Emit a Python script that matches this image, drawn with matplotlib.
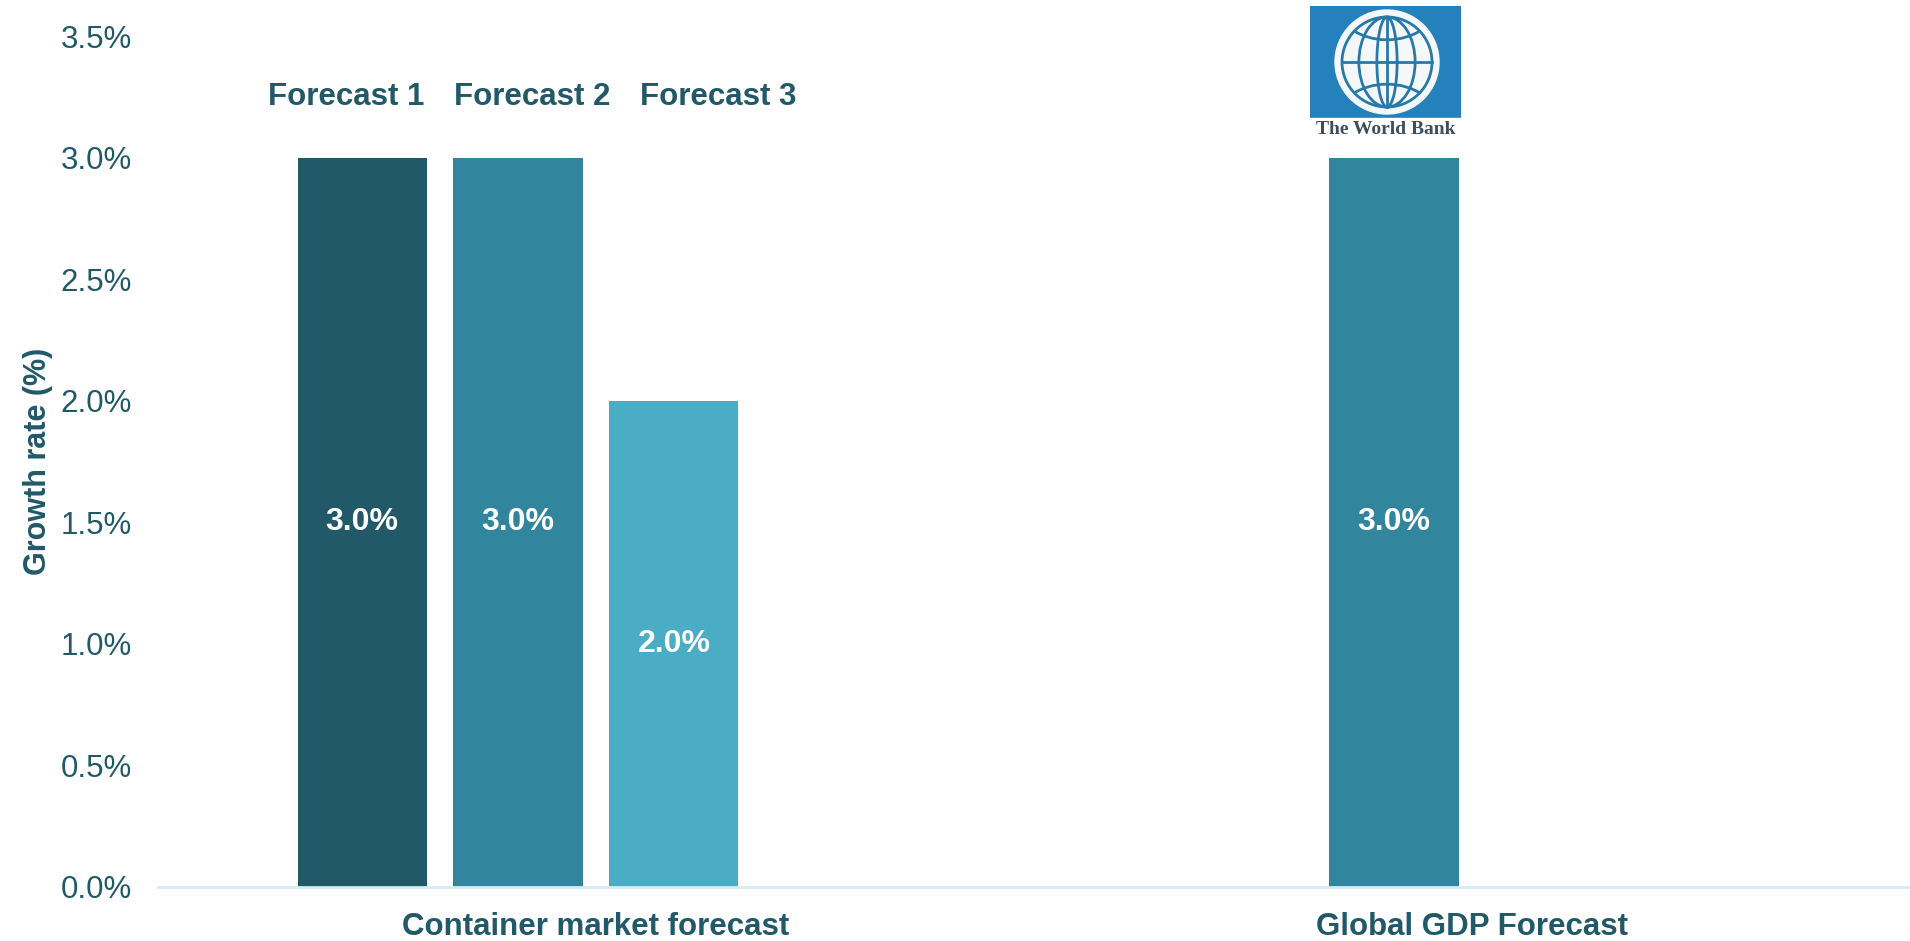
import numpy as np
import matplotlib
matplotlib.use("Agg")
import matplotlib.pyplot as plt
from matplotlib.patches import Rectangle, Circle, Ellipse

# data
categories = ["Container market forecast", "Global GDP Forecast"]
series_names = ["Forecast 1", "Forecast 2", "Forecast 3"]
forecast_1 = [3.0, np.nan]
forecast_2 = [3.0, 3.0]
forecast_3 = [2.0, np.nan]
series_vals = [forecast_1, forecast_2, forecast_3]
colors = ["#215968", "#31859C", "#4BACC6"]
yticks = [0.0, 0.5, 1.0, 1.5, 2.0, 2.5, 3.0, 3.5]

txt = "#215968"
plt.rcParams["font.family"] = ["Liberation Sans", "DejaVu Sans"]

fig = plt.figure(figsize=(19.1, 9.41), dpi=100)
ax = fig.add_axes([0.0827, 0.0576, 0.9173, 0.9036])

# four slots per category, bars fill the first three
n_slots = 4
slot = 0.178
width = 0.1474
xc = np.arange(len(categories)) + 0.5
for i, (name, vals) in enumerate(zip(series_names, series_vals)):
    off = (i - (n_slots - 1) / 2) * slot
    ax.bar(xc + off, vals, width=width, color=colors[i], zorder=2)
    for x, v in zip(xc + off, vals):
        if not np.isnan(v):
            ax.text(x, v / 2, f"{v:.1f}%", ha="center", va="center",
                    color="white", fontsize=23, fontweight="bold")

# series labels above the first group
label_x = [0.2149, 0.427, 0.639]
for x, name in zip(label_x, series_names):
    ax.text(x, 3.25, name, ha="center", va="center", color=txt,
            fontsize=22.5, fontweight="bold")

ax.set_xlim(0, 2)
ax.set_ylim(0, 3.5)
ax.set_yticks(yticks)
ax.set_yticklabels([f"{t:.1f}%" for t in yticks], fontsize=22.5, color=txt)
ax.set_xticks(xc)
ax.set_xticklabels(categories, fontsize=22.5, fontweight="bold", color=txt)
ax.tick_params(axis="y", length=0, pad=19)
ax.tick_params(axis="x", length=0, pad=18)
for s in ["top", "right", "left"]:
    ax.spines[s].set_visible(False)
ax.spines["bottom"].set_color("#D6ECF3")
ax.spines["bottom"].set_linewidth(2)
ax.set_ylabel("Growth rate (%)", fontsize=22, fontweight="bold", color=txt)
ax.yaxis.set_label_coords(-0.06, 0.5)

# logo above the GDP bar
lg = fig.add_axes([1310 / 1910, 1 - 140 / 941, 151 / 1910, 134 / 941])
lg.set_xlim(0, 151)
lg.set_ylim(0, 134)
lg.axis("off")
lg.add_patch(Rectangle((0, 22), 151, 112, color="#2481BC"))
lg.add_patch(Rectangle((0, 0), 151, 22, color="white"))
cx, cy, r = 77, 78, 52
lg.add_patch(Circle((cx, cy), r, color="#F4F8FA"))
inner = Circle((cx, cy), r - 7, fill=False, ec="#2779A8", lw=2)
lg.add_patch(inner)
grid_kw = dict(fill=False, ec="#2779A8", lw=2)
for w in [0.45, 1.25]:
    e = Ellipse((cx, cy), (r - 7) * w, 2 * (r - 7), **grid_kw)
    lg.add_patch(e)
lg.plot([cx, cx], [cy - r + 7, cy + r - 7], color="#2779A8", lw=2)
lg.plot([cx - r + 7, cx + r - 7], [cy, cy], color="#2779A8", lw=2)
for dy in [-26, 26]:
    e = Ellipse((cx, cy + dy * 2.2), 2 * (r - 7) * 1.1, 70, **grid_kw)
    e.set_clip_path(inner)
    lg.add_patch(e)
lg.text(75.5, 11, "The World Bank", ha="center", va="center",
        fontsize=14, fontweight="bold", color="#3D4F5C",
        family="Liberation Serif")

fig.savefig("out.png", dpi=100)
